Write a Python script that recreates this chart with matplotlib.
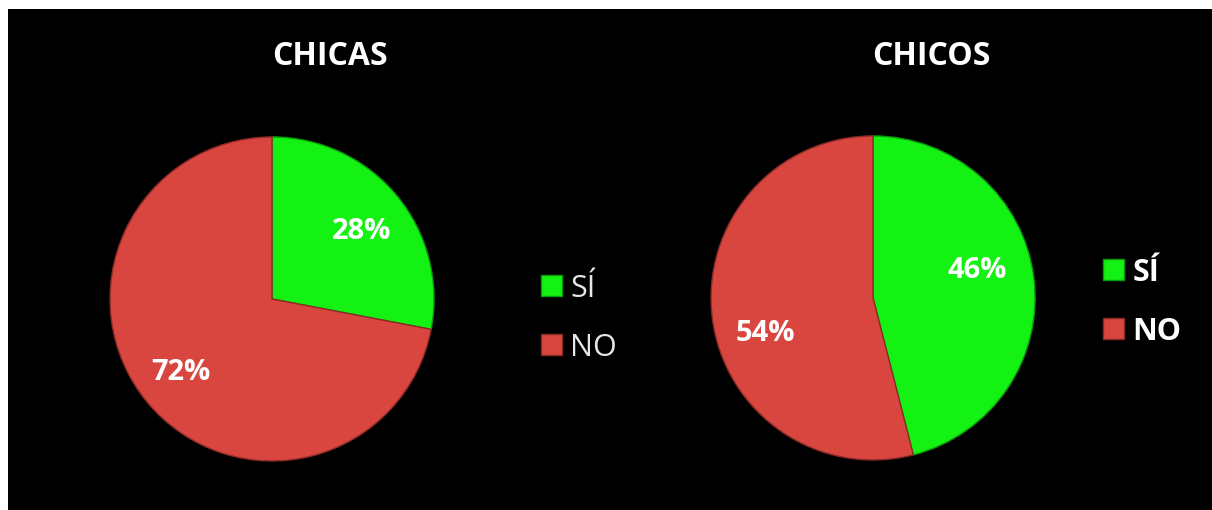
import matplotlib.pyplot as plt
from matplotlib.patches import Rectangle

# data
categories = ['SÍ', 'NO']
chicas_values = [28, 72]
chicos_values = [46, 54]
titles = ['CHICAS', 'CHICOS']

GREEN = '#14F214'
RED = '#D8463F'
W, H = 1212, 510

plt.rcParams['font.family'] = ['Open Sans', 'DejaVu Sans']

fig = plt.figure(figsize=(W / 100 + 0.001, H / 100 + 0.001), dpi=100, facecolor='black')

# white strip on top and left edges, like the screenshot
fig.patches.append(Rectangle((0, 1 - 9 / H), 1, 9 / H, transform=fig.transFigure,
                             facecolor='white', edgecolor='none', zorder=0))
fig.patches.append(Rectangle((0, 0), 8 / W, 1, transform=fig.transFigure,
                             facecolor='white', edgecolor='none', zorder=0))


def draw_pie(cx, cy, r, values, title, title_x, label_pos, legend_x, legend_y, legend_bold):
    ax = fig.add_axes([(cx - r) / W, (H - cy - r) / H, 2 * r / W, 2 * r / H])
    ax.set_facecolor('black')
    wedges, texts, autotexts = ax.pie(
        values, colors=[GREEN, RED], startangle=90, counterclock=False,
        autopct='%d%%', pctdistance=0.70, radius=1.0,
        wedgeprops=dict(edgecolor='#8A2A26', linewidth=1.0),
        textprops=dict(color='white', fontsize=21, fontweight='bold'))
    wedges[0].set_edgecolor('#0B9A0B')
    # labels sit a little off the wedge middles in the original
    for t, pos in zip(autotexts, label_pos):
        t.set_position(pos)
    ax.set_xlim(-1, 1)
    ax.set_ylim(-1, 1)
    ax.set_aspect('equal')
    ax.axis('off')

    fig.text(title_x / W, 1 - 56 / H, title, color='white', fontsize=23,
             fontweight='bold', ha='center', va='center')

    leg = fig.legend(wedges, categories, loc='center left',
                     bbox_to_anchor=(legend_x / W, 1 - legend_y / H),
                     frameon=False, borderpad=0, borderaxespad=0,
                     handlelength=0.68, handleheight=0.68, handletextpad=0.28,
                     labelspacing=0.95,
                     prop=dict(size=22, weight='bold' if legend_bold else 'normal'))
    for t in leg.get_texts():
        t.set_color('white' if legend_bold else '#E6E6E6')


draw_pie(272, 299, 162, chicas_values, titles[0], 330,
         [(0.556, 0.414), (-0.562, -0.451)], 541, 318, False)
draw_pie(873, 298, 162, chicos_values, titles[1], 931,
         [(0.642, 0.173), (-0.667, -0.216)], 1103, 302, True)

fig.savefig('out.png', dpi=100, facecolor=fig.get_facecolor())
